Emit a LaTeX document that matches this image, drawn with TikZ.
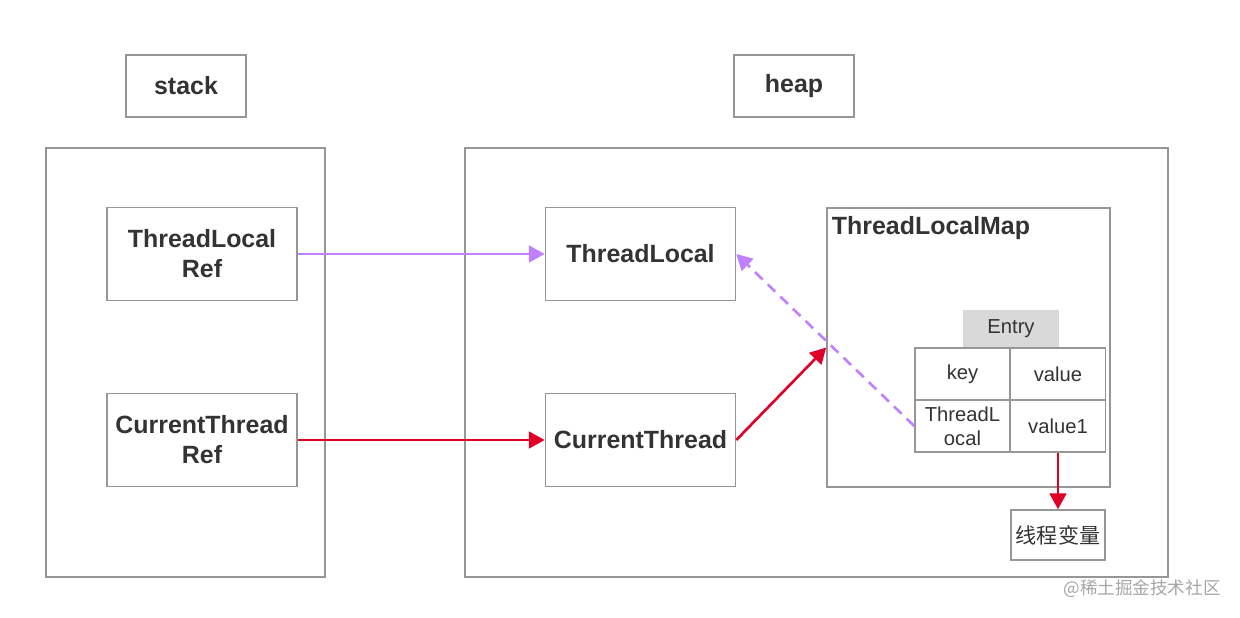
\documentclass[tikz,border=0pt]{standalone}
\usepackage{fontspec}
\setmainfont{Liberation Sans}
\newfontfamily\cjk{Noto Sans CJK SC}
\usetikzlibrary{arrows.meta}

\definecolor{texte}{RGB}{51,51,51}
\definecolor{bord}{RGB}{150,150,150}
\definecolor{violet}{RGB}{192,128,255}
\definecolor{rouge}{RGB}{222,0,38}
\definecolor{entete}{RGB}{217,217,217}
\def\pix{0.02cm}

\tikzset{
  boite/.style={draw=bord, line width=0.9pt, text=texte, align=center, inner sep=0pt},
  gras/.style={font=\fontsize{14.2}{17}\selectfont\bfseries},
  fin/.style={font=\fontsize{11.5}{13.5}\selectfont},
  fleche/.style={line width=1.5pt, -{Triangle[length=9pt,width=9.5pt]}},
}

\begin{document}
\begin{tikzpicture}[x=0.02cm, y=-0.02cm]
  \useasboundingbox (0,0) rectangle (1240,618);

  % Zones principales
  \node[boite, gras, minimum width=120*\pix, minimum height=62*\pix] (pile) at (186,86) {stack};
  \node[boite, gras, minimum width=120*\pix, minimum height=62*\pix] (tas) at (794,86) {heap};
  \node[boite, minimum width=279*\pix, minimum height=429*\pix] (zonepile) at (185.5,362.5) {};
  \node[boite, minimum width=703*\pix, minimum height=429*\pix] (zonetas) at (816.5,362.5) {};

  % References et objets
  \foreach \nom/\x/\y/\texte in {tlref/202/254/{ThreadLocal\\Ref}, ctref/202/440/{CurrentThread\\Ref},
                                 tl/640.5/254/ThreadLocal, ct/640.5/440/CurrentThread} {
    \node[boite, gras, minimum width=190*\pix, minimum height=93*\pix] (\nom) at (\x,\y) {\texte};
  }

  % ThreadLocalMap et son Entry
  \node[boite, minimum width=283*\pix, minimum height=279*\pix] (carte) at (968.5,347.5) {};
  \node[gras, text=texte, anchor=north west, inner xsep=3pt, inner ysep=5pt] (titrecarte) at (carte.north west) {ThreadLocalMap};
  \node[fin, fill=entete, text=texte, minimum width=96*\pix, minimum height=38*\pix] (entry) at (1011,329) {Entry};
  \foreach \nom/\x/\y/\texte in {cle/962.5/374/key, valeur/1058/374/value,
                                 cleun/962.5/426/{ThreadL\\ocal}, valeurun/1058/426/value1} {
    \node[boite, fin, minimum width=95*\pix, minimum height=52*\pix] (\nom) at (\x,\y) {\texte};
  }
  \node[boite, font=\cjk\fontsize{12}{14}\selectfont, minimum width=94*\pix, minimum height=50*\pix] (variable) at (1058,535) {线程变量};

  % Fleches
  \draw[fleche, violet] (tlref.east) -- (tl.west);
  \draw[fleche, rouge] (ctref.east) -- (ct.west);
  \draw[fleche, rouge] (ct.east) -- (carte.west);
  \draw[fleche, violet, dash pattern=on 6pt off 4pt] (cleun.west) -- (tl.east);
  \draw[fleche, rouge] (valeurun.south) -- (variable.north);

  % Filigrane
  \node[font=\cjk\fontsize{10}{12}\selectfont, text=black!35] (filigrane) at (1142,589) {@稀土掘金技术社区};
\end{tikzpicture}
\end{document}
